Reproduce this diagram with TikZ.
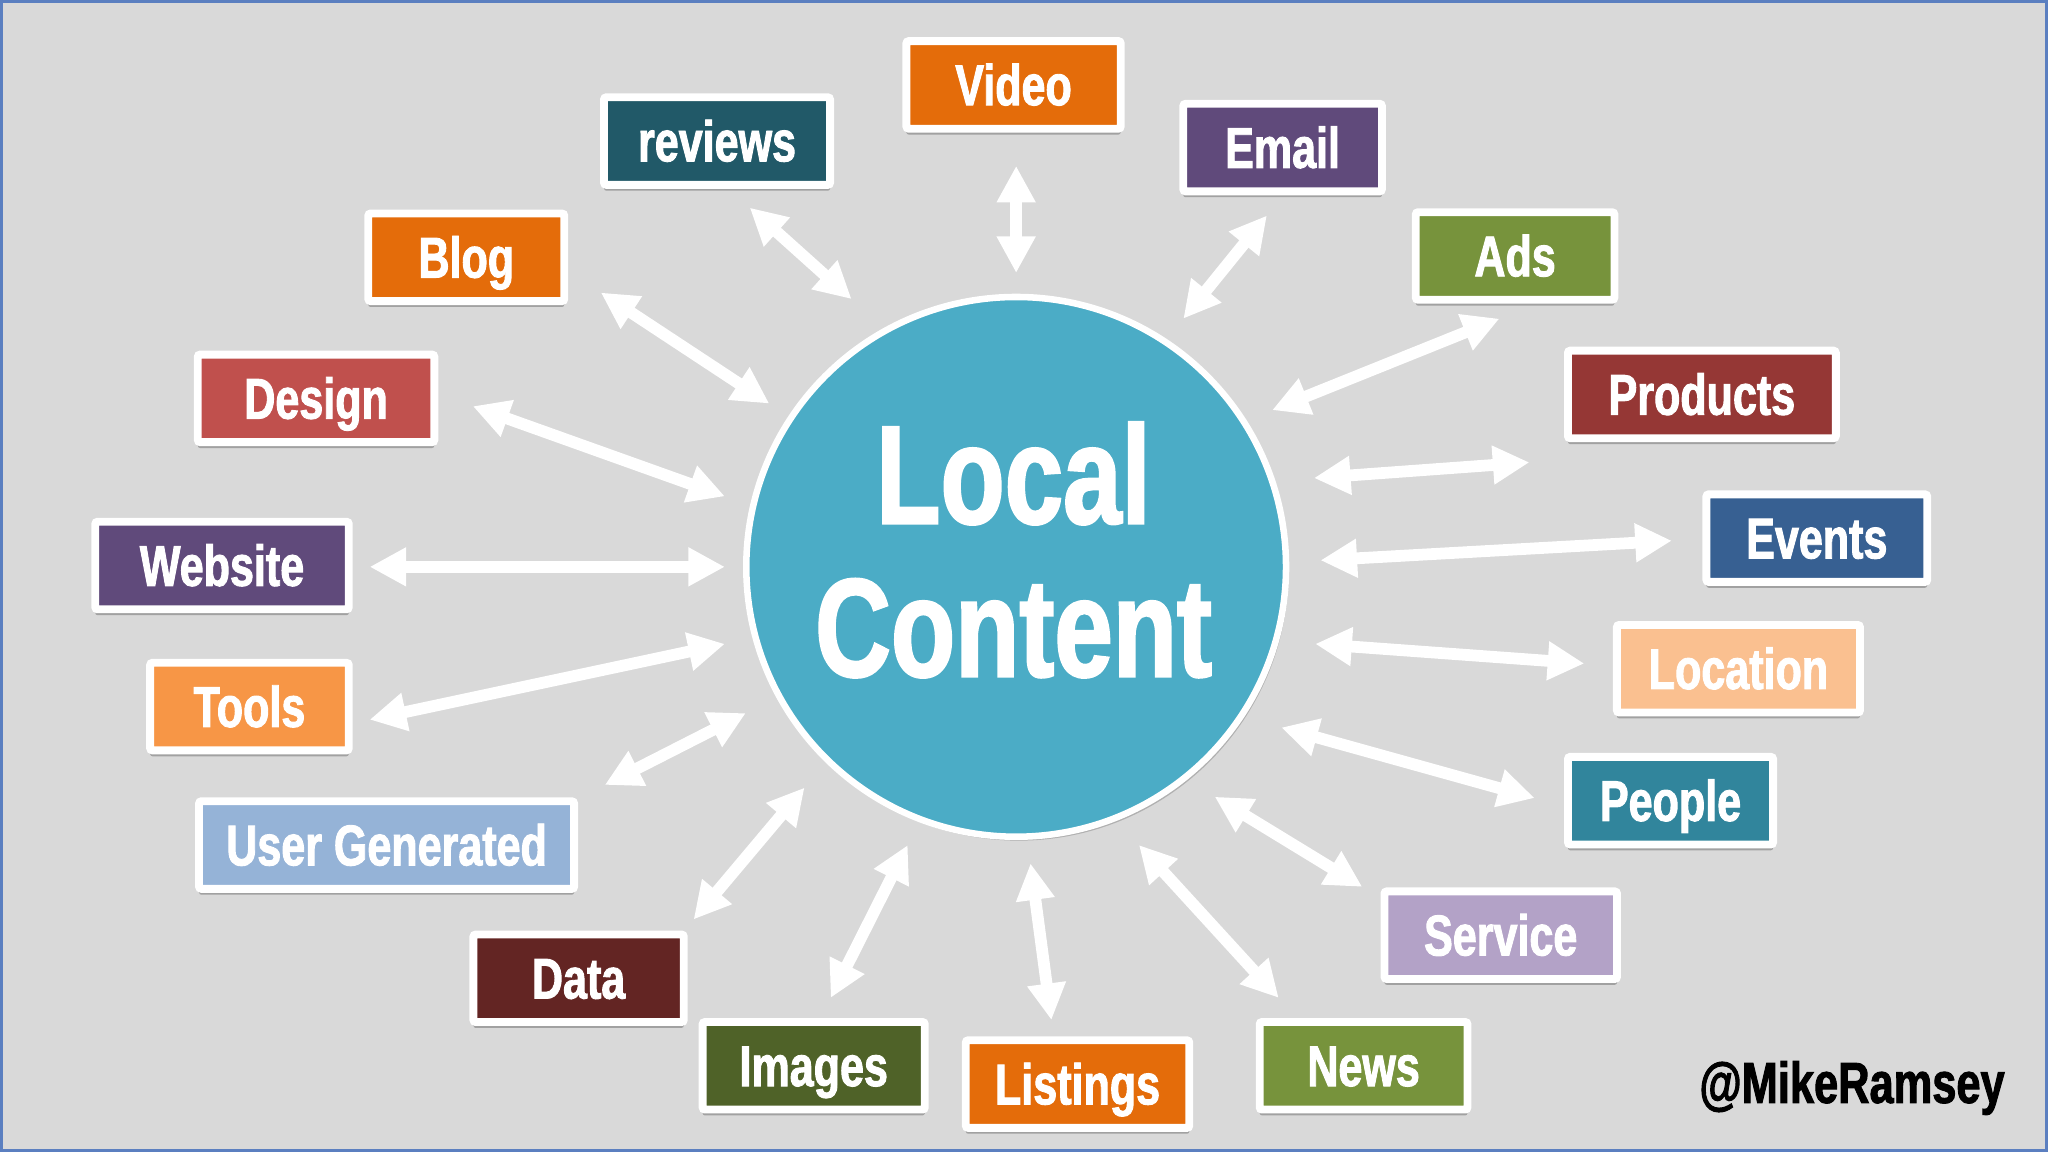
\documentclass[tikz,border=0pt]{standalone}
\usepackage{fontspec}
\newfontfamily\imp[FakeStretch=0.75, BoldFeatures={FakeBold=1.6}]{Liberation Sans}
\usetikzlibrary{arrows.meta,shadows}
\definecolor{bg}{HTML}{D9D9D9}
\definecolor{frame}{HTML}{5B7FC0}
\definecolor{hubfill}{HTML}{4BACC6}
\definecolor{cOrange}{HTML}{E46C0A}
\definecolor{cTeal}{HTML}{215968}
\definecolor{cPurple}{HTML}{604A7B}
\definecolor{cGreen}{HTML}{77933C}
\definecolor{cRed}{HTML}{C0504D}
\definecolor{cDarkRed}{HTML}{953735}
\definecolor{cBlue}{HTML}{376092}
\definecolor{cLtOrange}{HTML}{F79646}
\definecolor{cPeach}{HTML}{FAC090}
\definecolor{cLtBlue}{HTML}{95B3D7}
\definecolor{cPeople}{HTML}{31859C}
\definecolor{cMaroon}{HTML}{632523}
\definecolor{cLavender}{HTML}{B3A2C7}
\definecolor{cOlive}{HTML}{4F6228}
\begin{document}
\begin{tikzpicture}[x=0.01cm,y=-0.01cm,
  box/.style={draw=white, line width=0.06cm, rounded corners=0.5pt,
    minimum height=0.67cm, inner sep=0pt, text=white,
    text height=0.31cm, text depth=0pt,
    font=\imp\bfseries\fontsize{12.5}{14}\selectfont,
    drop shadow={shadow xshift=0cm, shadow yshift=-0.045cm, opacity=0.55, fill=black!55}},
  arr/.style={draw=white, line width=0.09cm,
    {Triangle[length=0.28cm,width=0.28cm]}-{Triangle[length=0.28cm,width=0.28cm]}}]
\useasboundingbox (0,0) rectangle (1568,882);
\fill[bg] (0,0) rectangle (1568,882);
\draw[frame, line width=0.02cm] (1,1) rectangle (1567,881);

% hub
\node[circle, fill=hubfill, draw=white, line width=0.05cm, minimum size=4.13cm,
  drop shadow={shadow xshift=0.02cm, shadow yshift=-0.03cm, opacity=0.35, fill=black!60}] (hub) at (778,434) {};
\node[text=white, align=center, font=\imp\bfseries\fontsize{30.5}{33.3}\selectfont] (hubtext) at (776,421) {Local\\Content};

% boxes
\node[box, fill=cOrange,   minimum width=1.64cm] (video)    at (776,65)  {Video};
\node[box, fill=cTeal,     minimum width=1.73cm] (reviews)  at (549,108) {reviews};
\node[box, fill=cPurple,   minimum width=1.52cm] (email)    at (982,113) {Email};
\node[box, fill=cOrange,   minimum width=1.50cm] (blog)     at (357,197) {Blog};
\node[box, fill=cGreen,    minimum width=1.52cm] (ads)      at (1160,196){Ads};
\node[box, fill=cRed,      minimum width=1.81cm] (design)   at (242,305) {Design};
\node[box, fill=cDarkRed,  minimum width=2.05cm] (products) at (1303,302){Products};
\node[box, fill=cPurple,   minimum width=1.94cm] (website)  at (170,433) {Website};
\node[box, fill=cBlue,     minimum width=1.69cm] (events)   at (1391,412){Events};
\node[box, fill=cLtOrange, minimum width=1.52cm] (tools)    at (191,541) {Tools};
\node[box, fill=cPeach,    minimum width=1.86cm] (location) at (1331,512){Location};
\node[box, fill=cLtBlue,   minimum width=2.87cm] (usergen)  at (296,647) {User Generated};
\node[box, fill=cPeople,   minimum width=1.57cm] (people)   at (1279,613){People};
\node[box, fill=cMaroon,   minimum width=1.61cm] (data)     at (443,749) {Data};
\node[box, fill=cLavender, minimum width=1.78cm] (service)  at (1149,716){Service};
\node[box, fill=cOlive,    minimum width=1.70cm] (images)   at (623,816) {Images};
\node[box, fill=cOrange,   minimum width=1.71cm] (listings) at (825,830) {Listings};
\node[box, fill=cGreen,    minimum width=1.59cm] (news)     at (1044,816){News};

\node[text=black, font=\imp\bfseries\fontsize{12.6}{14}\selectfont] (handle) at (1418,833) {@MikeRamsey};

% arrow end points
\coordinate (r1) at (574,159);  \coordinate (r2) at (652,229);
\coordinate (v1) at (778,127);  \coordinate (v2) at (778,209);
\coordinate (e1) at (970,165);  \coordinate (e2) at (906,244);
\coordinate (b1) at (460,224);  \coordinate (b2) at (589,309);
\coordinate (a1) at (1148,244); \coordinate (a2) at (974,314);
\coordinate (d1) at (362,311);  \coordinate (d2) at (555,380);
\coordinate (p1) at (1006,366); \coordinate (p2) at (1171,354);
\coordinate (w1) at (283,434);  \coordinate (w2) at (555,434);
\coordinate (ev1) at (1011,429);\coordinate (ev2) at (1280,414);
\coordinate (t1) at (283,551);  \coordinate (t2) at (555,493);
\coordinate (l1) at (1007,493); \coordinate (l2) at (1213,508);
\coordinate (u1) at (463,601);  \coordinate (u2) at (571,546);
\coordinate (pe1) at (981,557); \coordinate (pe2) at (1175,611);
\coordinate (da1) at (531,704); \coordinate (da2) at (616,603);
\coordinate (s1) at (930,610);  \coordinate (s2) at (1043,679);
\coordinate (i1) at (636,764);  \coordinate (i2) at (695,647);
\coordinate (li1) at (789,661); \coordinate (li2) at (805,781);
\coordinate (n1) at (872,647);  \coordinate (n2) at (979,764);

\draw[arr] (r1) -- (r2);
\draw[arr] (v1) -- (v2);
\draw[arr] (e1) -- (e2);
\draw[arr] (b1) -- (b2);
\draw[arr] (a1) -- (a2);
\draw[arr] (d1) -- (d2);
\draw[arr] (p1) -- (p2);
\draw[arr] (w1) -- (w2);
\draw[arr] (ev1) -- (ev2);
\draw[arr] (t1) -- (t2);
\draw[arr] (l1) -- (l2);
\draw[arr] (u1) -- (u2);
\draw[arr] (pe1) -- (pe2);
\draw[arr] (da1) -- (da2);
\draw[arr] (s1) -- (s2);
\draw[arr] (i1) -- (i2);
\draw[arr] (li1) -- (li2);
\draw[arr] (n1) -- (n2);
\end{tikzpicture}
\end{document}
